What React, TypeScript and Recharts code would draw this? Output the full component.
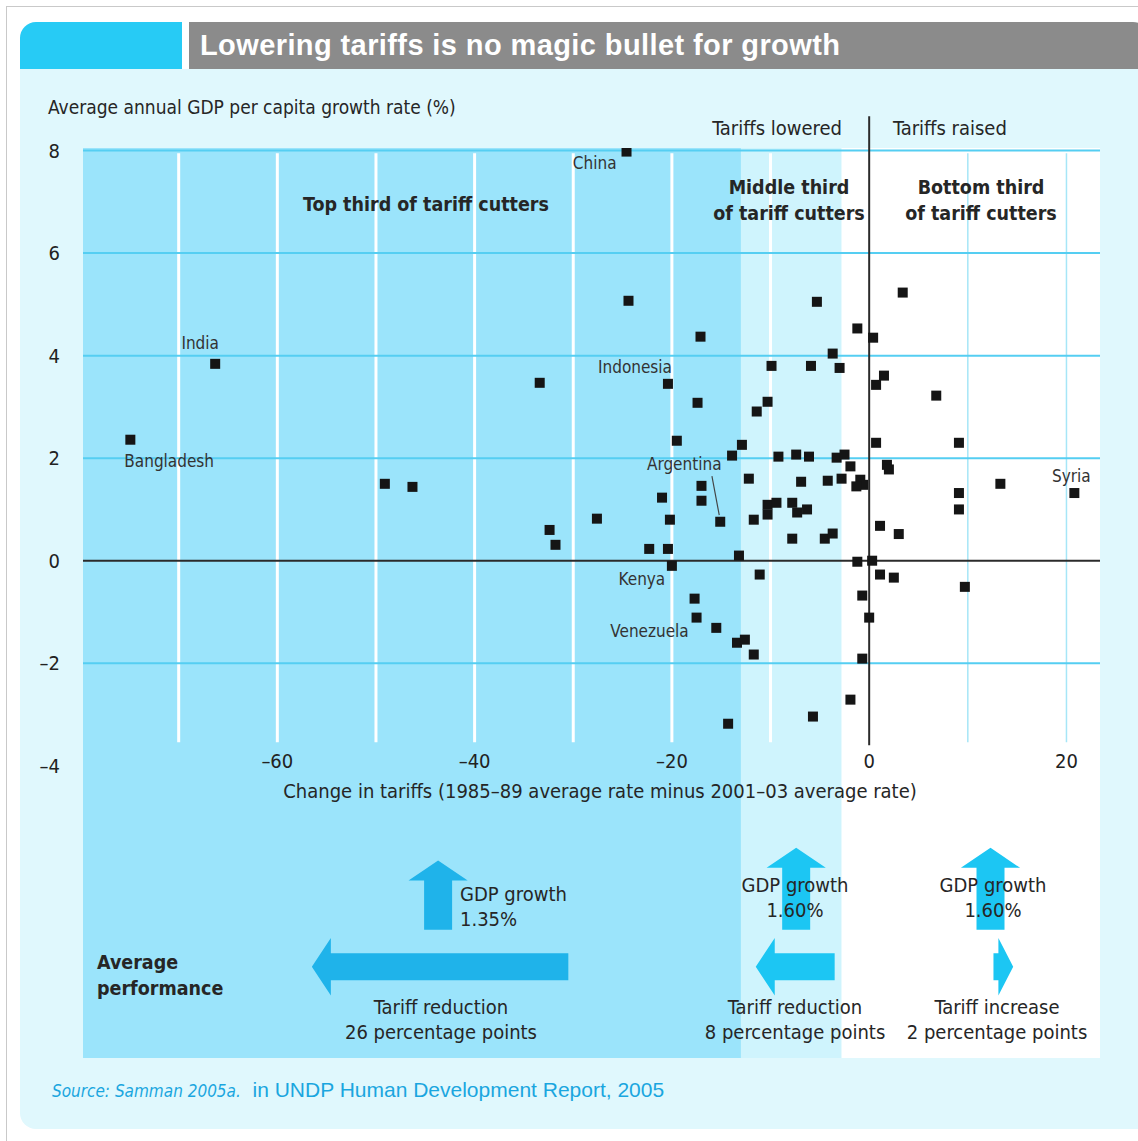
import React from "react";
import {
  ScatterChart,
  Scatter,
  XAxis,
  YAxis,
  ReferenceArea,
  ReferenceLine,
} from "recharts";

// ---- data ----
const labelledCountries = ["China", "India", "Bangladesh", "Indonesia", "Argentina", "Kenya", "Venezuela", "Syria"];
const labelledTariff = [-24.6, -66.3, -74.9, -20.4, -15.1, -20.0, -17.5, 20.8];
const labelledGrowth = [7.98, 3.84, 2.36, 3.45, 0.76, -0.1, -1.11, 1.32];

// other countries: [change in tariffs, GDP per capita growth]
const otherCountries: [number, number][] = [
  [-49.1, 1.5], [-46.3, 1.44], [-33.4, 3.47], [-32.4, 0.6], [-31.8, 0.31],
  [-27.6, 0.82], [-24.4, 5.07], [-22.3, 0.23], [-20.4, 0.23], [-21.0, 1.23],
  [-20.2, 0.8], [-19.5, 2.34], [-17.1, 4.37], [-17.4, 3.08], [-17.0, 1.46],
  [-17.0, 1.17], [-17.7, -0.74], [-15.5, -1.31], [-14.3, -3.18], [-13.9, 2.05],
  [-12.9, 2.26], [-13.2, 0.1], [-13.4, -1.6], [-12.6, -1.54], [-11.7, -1.83],
  [-12.2, 1.6], [-11.7, 0.8], [-11.4, 2.91], [-11.1, -0.27], [-10.3, 3.1],
  [-10.3, 1.09], [-10.3, 0.9], [-9.9, 3.8], [-9.4, 1.13], [-9.2, 2.03],
  [-7.8, 1.13], [-7.3, 0.94], [-7.4, 2.07], [-7.8, 0.43], [-6.9, 1.54],
  [-6.3, 1.0], [-6.1, 2.03], [-5.9, 3.8], [-5.3, 5.05], [-5.7, -3.04],
  [-4.5, 0.43], [-3.7, 0.53], [-4.2, 1.56], [-3.7, 4.04], [-3.0, 3.76],
  [-3.3, 2.01], [-2.8, 1.6], [-2.5, 2.07], [-1.9, 1.84], [-1.9, -2.71],
  [-1.2, 4.53], [-1.2, -0.02], [-0.9, 1.58], [-0.6, 1.48], [-1.3, 1.45],
  [-0.7, -0.68], [-0.7, -1.91], [0.0, -1.11], [0.4, 4.35], [0.7, 3.43],
  [1.5, 3.61], [0.7, 2.3], [1.8, 1.87], [2.0, 1.78], [1.1, 0.68],
  [3.0, 0.52], [0.3, 0.0], [1.1, -0.27], [2.5, -0.33], [3.4, 5.23],
  [6.8, 3.22], [9.1, 2.3], [13.3, 1.5], [9.1, 1.32], [9.1, 1.0], [9.7, -0.51],
];

const xTicks = [-60, -40, -20, 0, 20];
const yTicks = [-4, -2, 0, 2, 4, 6, 8];
const xGrid = [-70, -60, -50, -40, -30, -20, -10, 10, 20];
const yGrid = [8, 6, 4, 2, -2];

// thirds of tariff cutters: boundaries on the tariff axis
const zoneEdges = [-79.7, -13, -2.8, 23.4];

// average performance per third
const avgTariffChange = [-26, -8, 2];
const avgGdpGrowth = [1.35, 1.6, 1.6];

// ---- layout / style ----
const NARROW = "'Liberation Sans Narrow', 'Arial Narrow', 'DejaVu Sans Condensed', sans-serif";
const WIDE = "'Liberation Sans', Arial, sans-serif";
const X_DOMAIN: [number, number] = [-79.7, 23.4];
const Y_DOMAIN: [number, number] = [-9.7, 8.05];
const GRID_TOP = 7.95;
const GRID_BOTTOM = -3.54;
const zoneFills = ["#9be4fb", "#cff4fd", "#ffffff"];
const arrowFills = ["#1fb3ea", "#1cc6f3", "#1cc6f3"];
const horizArrowBase = [-30.5, -3.5, 12.6];
const upArrowCenter = [-43.7, -7.4, 12.3];
const UP_BASE = -7.2;
const ROW_Y = -7.92;
const ROW_HALF = 0.56;
const UP_HALF = 3.0;

const labelPos: Record<string, { dx: number; dy: number; anchor: "start" | "middle" | "end" }> = {
  China: { dx: -10, dy: 11, anchor: "end" },
  India: { dx: -15, dy: -21, anchor: "middle" },
  Bangladesh: { dx: -6, dy: 21, anchor: "start" },
  Indonesia: { dx: 4, dy: -17, anchor: "end" },
  Argentina: { dx: -36, dy: -58, anchor: "middle" },
  Kenya: { dx: -30, dy: 13, anchor: "middle" },
  Venezuela: { dx: -47, dy: 13, anchor: "middle" },
  Syria: { dx: -3, dy: -17, anchor: "middle" },
};
const argentinaLeader = [
  { x: -15.94, y: 1.65 },
  { x: -15.2, y: 0.89 },
];

const fmt = (v: number) => (v < 0 ? "\u2013" + Math.abs(v) : String(v));

const labelledData = labelledCountries.map((name, i) => ({
  name,
  x: labelledTariff[i],
  y: labelledGrowth[i],
}));
const otherData = otherCountries.map(([x, y]) => ({ x, y }));
const allPoints = [...otherData, ...labelledData];
const xTickData = xTicks.map((x) => ({ x, y: -3.9 }));

const Square = (p: any) => (
  <rect x={p.cx - 5} y={p.cy - 5} width={10} height={10} fill="#151515" />
);

const CountryLabel = (p: any) => {
  const s = labelPos[p.payload.name];
  return (
    <text
      x={p.cx + s.dx}
      y={p.cy + s.dy}
      textAnchor={s.anchor}
      dominantBaseline="central"
      fontSize={17}
      fontFamily={NARROW}
      fill="#333"
    >
      {p.payload.name}
    </text>
  );
};

const XTickLabel = (p: any) => (
  <text
    x={p.cx}
    y={p.cy}
    textAnchor="middle"
    dominantBaseline="central"
    fontSize={20}
    fontFamily={NARROW}
    fill="#222"
  >
    {fmt(p.payload.x)}
  </text>
);

const upArrow = (fill: string) => (p: any) => {
  const cx = p.x + p.width / 2;
  const top = p.y;
  const bottom = p.y + p.height;
  const hh = 20;
  const sh = 14;
  const hw = p.width / 2;
  const pts = [
    [cx, top],
    [cx + hw, top + hh],
    [cx + sh, top + hh],
    [cx + sh, bottom],
    [cx - sh, bottom],
    [cx - sh, top + hh],
    [cx - hw, top + hh],
  ];
  return <polygon points={pts.map((q) => q.join(",")).join(" ")} fill={fill} />;
};

const sideArrow = (fill: string, dir: number) => (p: any) => {
  const cy = p.y + p.height / 2;
  const hl = Math.min(19, p.width * 0.75);
  const sh = 13.5;
  const pts =
    dir < 0
      ? [
          [p.x, cy],
          [p.x + hl, p.y],
          [p.x + hl, cy - sh],
          [p.x + p.width, cy - sh],
          [p.x + p.width, cy + sh],
          [p.x + hl, cy + sh],
          [p.x + hl, p.y + p.height],
        ]
      : [
          [p.x + p.width, cy],
          [p.x + p.width - hl, p.y],
          [p.x + p.width - hl, cy - sh],
          [p.x, cy - sh],
          [p.x, cy + sh],
          [p.x + p.width - hl, cy + sh],
          [p.x + p.width - hl, p.y + p.height],
        ];
  return <polygon points={pts.map((q) => q.join(",")).join(" ")} fill={fill} />;
};

const txt = (
  left: number,
  top: number,
  lines: string[],
  opts: { size?: number; bold?: boolean; align?: "left" | "center" | "right"; width?: number; lh?: number } = {}
) => {
  const { size = 20, bold = false, align = "left", width = 300, lh = 25 } = opts;
  const l = align === "center" ? left - width / 2 : align === "right" ? left - width : left;
  return (
    <div
      style={{
        position: "absolute",
        left: l,
        top,
        width,
        textAlign: align,
        fontFamily: NARROW,
        fontSize: size,
        fontWeight: bold ? 700 : 400,
        lineHeight: `${lh}px`,
        color: "#262626",
        whiteSpace: "nowrap",
      }}
    >
      {lines.map((s, i) => (
        <div key={i}>{s}</div>
      ))}
    </div>
  );
};

export default function App() {
  return (
    <div style={{ position: "absolute", left: 0, top: 0, width: 1138, height: 1141, background: "#fff", overflow: "hidden" }}>
      <div style={{ position: "absolute", left: 6, top: 6, width: 1150, height: 1150, border: "1px solid #c9c9c9" }} />
      <div
        style={{
          position: "absolute",
          left: 20,
          top: 69,
          width: 1140,
          height: 1060,
          background: "#e0f8fd",
          borderRadius: "0 0 16px 16px",
        }}
      />
      <div style={{ position: "absolute", left: 20, top: 22, width: 162, height: 47, background: "#27cbf5", borderTopLeftRadius: 16 }} />
      <div
        style={{
          position: "absolute",
          left: 189,
          top: 22,
          width: 960,
          height: 47,
          background: "#8b8b8b",
          borderTopRightRadius: 16,
          color: "#fff",
          fontFamily: WIDE,
          fontWeight: 700,
          fontSize: 29,
          letterSpacing: 0.4,
          lineHeight: "47px",
          paddingLeft: 11,
          boxSizing: "border-box",
        }}
      >
        Lowering tariffs is no magic bullet for growth
      </div>

      <ScatterChart
        width={1138}
        height={1141}
        margin={{ top: 148, right: 38, bottom: 83, left: 23 }}
        style={{ position: "absolute", left: 0, top: 0 }}
      >
        <XAxis type="number" dataKey="x" domain={X_DOMAIN} allowDataOverflow hide />
        <YAxis
          type="number"
          dataKey="y"
          domain={Y_DOMAIN}
          allowDataOverflow
          ticks={yTicks}
          interval={0}
          width={60}
          axisLine={false}
          tickLine={false}
          tickMargin={17}
          tickFormatter={fmt}
          tick={{ fontSize: 20, fill: "#222", fontFamily: NARROW }}
        />
        {zoneFills.map((f, i) => (
          <ReferenceArea
            key={"z" + i}
            x1={zoneEdges[i]}
            x2={zoneEdges[i + 1]}
            y1={Y_DOMAIN[0]}
            y2={Y_DOMAIN[1]}
            fill={f}
            fillOpacity={1}
            stroke="none"
          />
        ))}
        {xGrid.map((v) => (
          <ReferenceLine
            key={"vx" + v}
            segment={[
              { x: v, y: GRID_BOTTOM },
              { x: v, y: GRID_TOP },
            ]}
            stroke={v < 0 ? "#ffffff" : "#a6e6f7"}
            strokeWidth={v < 0 ? 3 : 1.5}
          />
        ))}
        {yGrid.map((v) => (
          <ReferenceLine key={"hy" + v} y={v} stroke="#55cef2" strokeWidth={2} />
        ))}
        <ReferenceLine y={0} stroke="#2b2b2b" strokeWidth={2} />
        <ReferenceLine
          segment={[
            { x: 0, y: -3.6 },
            { x: 0, y: 8.67 },
          ]}
          ifOverflow="visible"
          stroke="#2b2b2b"
          strokeWidth={2}
        />
        <ReferenceLine segment={argentinaLeader} stroke="#444" strokeWidth={1.2} />

        {avgGdpGrowth.map((g, i) => (
          <ReferenceArea
            key={"ua" + i}
            x1={upArrowCenter[i] - UP_HALF}
            x2={upArrowCenter[i] + UP_HALF}
            y1={UP_BASE}
            y2={UP_BASE + g}
            shape={upArrow(arrowFills[i])}
          />
        ))}
        {avgTariffChange.map((c, i) => (
          <ReferenceArea
            key={"ha" + i}
            x1={Math.min(horizArrowBase[i], horizArrowBase[i] + c)}
            x2={Math.max(horizArrowBase[i], horizArrowBase[i] + c)}
            y1={ROW_Y - ROW_HALF}
            y2={ROW_Y + ROW_HALF}
            shape={sideArrow(arrowFills[i], c < 0 ? -1 : 1)}
          />
        ))}

        <Scatter data={allPoints} shape={Square} isAnimationActive={false} />
        <Scatter data={labelledData} shape={CountryLabel} isAnimationActive={false} />
        <Scatter data={xTickData} shape={XTickLabel} isAnimationActive={false} />
      </ScatterChart>

      {txt(48, 95, ["Average annual GDP per capita growth rate (%)"], { width: 500, size: 19 })}
      {txt(842, 116, ["Tariffs lowered"], { align: "right", width: 200 })}
      {txt(893, 116, ["Tariffs raised"], { width: 200 })}
      {txt(426, 192, ["Top third of tariff cutters"], { align: "center", bold: true, size: 19.5, lh: 26 })}
      {txt(789, 175, ["Middle third", "of tariff cutters"], { align: "center", bold: true, size: 19.5, lh: 26 })}
      {txt(981, 175, ["Bottom third", "of tariff cutters"], { align: "center", bold: true, size: 19.5, lh: 26 })}
      {txt(600, 779, ["Change in tariffs (1985\u201389 average rate minus 2001\u201303 average rate)"], {
        align: "center",
        width: 800,
      })}
      {txt(97, 950, ["Average", "performance"], { bold: true, size: 19.5, lh: 26 })}
      {txt(460, 882, ["GDP growth", `${avgGdpGrowth[0].toFixed(2)}%`], {})}
      {txt(795, 873, ["GDP growth", `${avgGdpGrowth[1].toFixed(2)}%`], { align: "center", width: 200 })}
      {txt(993, 873, ["GDP growth", `${avgGdpGrowth[2].toFixed(2)}%`], { align: "center", width: 200 })}
      {txt(441, 995, ["Tariff reduction", `${Math.abs(avgTariffChange[0])} percentage points`], { align: "center", width: 260 })}
      {txt(795, 995, ["Tariff reduction", `${Math.abs(avgTariffChange[1])} percentage points`], { align: "center", width: 220 })}
      {txt(997, 995, ["Tariff increase", `${Math.abs(avgTariffChange[2])} percentage points`], { align: "center", width: 220 })}

      <div
        style={{
          position: "absolute",
          left: 52,
          top: 1078,
          color: "#1aa6df",
          fontSize: 21,
          lineHeight: "24px",
          whiteSpace: "nowrap",
          fontFamily: WIDE,
        }}
      >
        <span style={{ fontFamily: NARROW, fontStyle: "italic", fontSize: 17 }}>Source: Samman 2005a.</span>
        {"  "}
        <span>&nbsp;in UNDP Human Development Report, 2005</span>
      </div>
    </div>
  );
}
